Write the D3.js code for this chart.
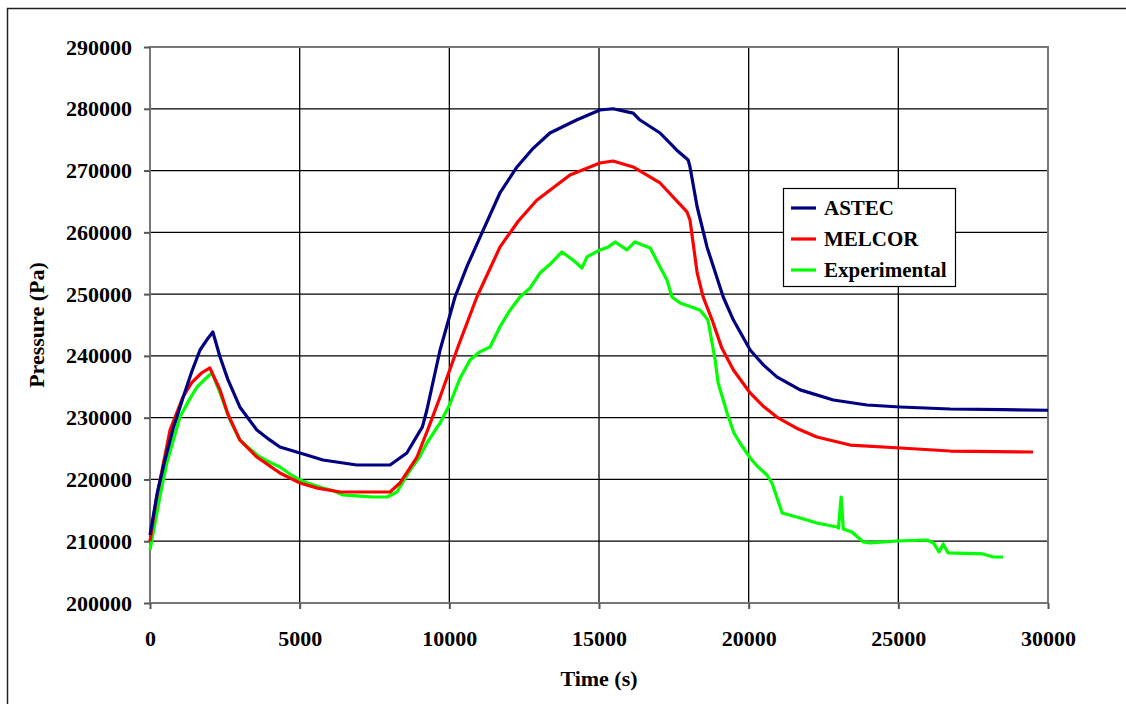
<!DOCTYPE html>
<meta charset="utf-8">
<html>
<head>
<script src="https://d3js.org/d3.v7.min.js"></script>
<style>
  body { margin: 0; background: #fff; }
  text { font-family: "Liberation Serif", "Times New Roman", serif; font-weight: bold; }
</style>
</head>
<body>
<div id="chart"></div>
<script>
// time (s) -> pressure (Pa)
var astecT = [0, 250, 500, 770, 1100, 1400, 1670, 1900, 2100, 2340, 2600, 3000, 3570, 4000, 4340, 5010, 5780, 6400, 6910, 8020, 8580, 9100, 9250, 9690, 10190, 10600, 11030, 11690, 12260, 12800, 13360, 14250, 15030, 15470, 16140, 16370, 17040, 17600, 17980, 18040, 18280, 18610, 19150, 19490, 20050, 20500, 20940, 21720, 22830, 23950, 25060, 26730, 28500, 30000];
var astecP = [211000, 218000, 223150, 228200, 233200, 237500, 240950, 242600, 243870, 239820, 236200, 231730, 228000, 226400, 225250, 224280, 223150, 222700, 222340, 222340, 224280, 228500, 231240, 240950, 249530, 254600, 259250, 266370, 270580, 273600, 276080, 278180, 279800, 280000, 279300, 278180, 276080, 273300, 271700, 270580, 264100, 257600, 249530, 245800, 240950, 238500, 236600, 234500, 232860, 232050, 231730, 231400, 231300, 231200];

var melcorT = [0, 200, 450, 670, 1100, 1400, 1720, 2000, 2340, 2600, 3000, 3570, 4000, 4340, 5010, 5600, 6350, 8020, 8350, 8920, 9300, 9690, 10300, 10920, 11690, 12300, 12920, 14030, 15030, 15470, 16140, 17040, 17940, 18040, 18280, 18480, 18780, 19100, 19490, 20050, 20500, 20940, 21600, 22280, 23390, 25060, 26730, 29500];
var melcorP = [210000, 216500, 222660, 228000, 233350, 235700, 237230, 238040, 234500, 230600, 226400, 223630, 222200, 221040, 219420, 218600, 217970, 217970, 219420, 223630, 228300, 233350, 241600, 249530, 257600, 261800, 265200, 269280, 271220, 271540, 270580, 267990, 263300, 262000, 253420, 249530, 245800, 241300, 237720, 234000, 231800, 230100, 228300, 226870, 225570, 225090, 224600, 224440];

var expT = [0, 330, 560, 1000, 1300, 1570, 1850, 2070, 2340, 2670, 3000, 3300, 3670, 4000, 4340, 4700, 5010, 5400, 5780, 6100, 6450, 7000, 7450, 7920, 8250, 8690, 9000, 9250, 9690, 10000, 10350, 10690, 11000, 11360, 11700, 12000, 12360, 12700, 13030, 13400, 13760, 14130, 14430, 14600, 15030, 15300, 15540, 15930, 16200, 16710, 17040, 17270, 17440, 17710, 18040, 18380, 18640, 18880, 18980, 19280, 19500, 19710, 20050, 20300, 20610, 20780, 21120, 21720, 22280, 22950, 23000, 23090, 23160, 23450, 23830, 24060, 24960, 25960, 26170, 26360, 26500, 26660, 27830, 28170, 28500];
var expP = [208580, 217160, 222660, 230100, 232800, 234960, 236300, 237230, 234000, 229620, 226400, 225100, 223630, 222800, 222020, 220800, 219900, 219200, 218620, 218200, 217480, 217300, 217160, 217160, 217970, 221520, 223600, 225900, 229140, 232000, 236300, 239350, 240600, 241440, 244800, 247200, 249530, 251000, 253420, 255000, 256820, 255520, 254230, 256020, 257150, 257600, 258440, 257150, 258440, 257460, 254390, 252300, 249530, 248560, 248000, 247400, 245800, 239340, 235600, 230750, 227600, 225900, 223470, 222100, 220720, 219420, 214570, 213760, 212950, 212300, 212140, 217160, 211980, 211500, 209880, 209720, 210040, 210200, 209720, 208260, 209550, 208100, 207940, 207450, 207450];

var seriesNames = ["ASTEC", "MELCOR", "Experimental"];
var seriesColors = ["#000080", "#ff0000", "#00ff00"];

var xTicks = [0, 5000, 10000, 15000, 20000, 25000, 30000];
var yTicks = [200000, 210000, 220000, 230000, 240000, 250000, 260000, 270000, 280000, 290000];

var width = 1126, height = 704;
var margin = {top: 47, right: 78, bottom: 101, left: 150};

var svg = d3.select("#chart").append("svg")
  .attr("width", width)
  .attr("height", height);

// outer frame
svg.append("rect")
  .attr("x", 7.5).attr("y", 8.5)
  .attr("width", width + 20).attr("height", height + 20)
  .attr("fill", "none").attr("stroke", "#222").attr("stroke-width", 1.5);

var x = d3.scaleLinear().domain([0, 30000]).range([margin.left, width - margin.right]);
var y = d3.scaleLinear().domain([200000, 290000]).range([height - margin.bottom, margin.top]);

// gridlines
svg.append("g").selectAll("line")
  .data(yTicks)
  .enter().append("line")
  .attr("x1", x(0)).attr("x2", x(30000))
  .attr("y1", function(d) { return y(d); })
  .attr("y2", function(d) { return y(d); })
  .attr("stroke", "#000").attr("stroke-width", 1.3);

svg.append("g").selectAll("line")
  .data(xTicks)
  .enter().append("line")
  .attr("y1", y(200000)).attr("y2", y(290000))
  .attr("x1", function(d) { return x(d); })
  .attr("x2", function(d) { return x(d); })
  .attr("stroke", "#000").attr("stroke-width", 1.3);

// plot frame
svg.append("rect")
  .attr("x", x(0)).attr("y", y(290000))
  .attr("width", x(30000) - x(0)).attr("height", y(200000) - y(290000))
  .attr("fill", "none").attr("stroke", "#777").attr("stroke-width", 2);

// axes
var yAxis = svg.append("g")
  .attr("transform", "translate(" + x(0) + ",0)")
  .call(d3.axisLeft(y).tickValues(yTicks).tickSize(6).tickPadding(12).tickFormat(d3.format("d")));
var xAxis = svg.append("g")
  .attr("transform", "translate(0," + y(200000) + ")")
  .call(d3.axisBottom(x).tickValues(xTicks).tickSize(6).tickPadding(21).tickFormat(d3.format("d")));

[xAxis, yAxis].forEach(function(a) {
  a.select(".domain").remove();
  a.selectAll(".tick line").attr("stroke", "#555").attr("stroke-width", 2);
  a.selectAll(".tick text")
    .attr("fill", "#000")
    .style("font-size", "22px")
    .style("font-family", "'Liberation Serif', serif")
    .style("font-weight", "bold");
});

// axis titles
svg.append("text")
  .attr("x", (x(0) + x(30000)) / 2)
  .attr("y", 686)
  .attr("text-anchor", "middle")
  .style("font-size", "22px")
  .text("Time (s)");

svg.append("text")
  .attr("transform", "translate(44," + ((y(200000) + y(290000)) / 2) + ") rotate(-90)")
  .attr("text-anchor", "middle")
  .style("font-size", "22px")
  .text("Pressure (Pa)");

// lines
var line = d3.line()
  .x(function(d) { return x(d[0]); })
  .y(function(d) { return y(d[1]); });

var data = [
  d3.zip(astecT, astecP),
  d3.zip(melcorT, melcorP),
  d3.zip(expT, expP)
];

// draw experimental first, then MELCOR, then ASTEC on top
[2, 1, 0].forEach(function(i) {
  svg.append("path")
    .datum(data[i])
    .attr("d", line)
    .attr("fill", "none")
    .attr("stroke", seriesColors[i])
    .attr("stroke-width", 3.2)
    .attr("stroke-linejoin", "round");
});

// legend
var legend = svg.append("g").attr("transform", "translate(783,188)");
legend.append("rect")
  .attr("x", 0.5).attr("y", 0.5)
  .attr("width", 172).attr("height", 98)
  .attr("fill", "#fff").attr("stroke", "#000").attr("stroke-width", 1.2);

var item = legend.selectAll(".item")
  .data(seriesNames)
  .enter().append("g")
  .attr("transform", function(d, i) { return "translate(0," + (20 + i * 31) + ")"; });

item.append("line")
  .attr("x1", 8).attr("x2", 33)
  .attr("stroke", function(d, i) { return seriesColors[i]; })
  .attr("stroke-width", 3.2);

item.append("text")
  .attr("x", 41)
  .attr("dy", "0.35em")
  .style("font-size", "21px")
  .text(function(d) { return d; });
</script>
</body>
</html>
